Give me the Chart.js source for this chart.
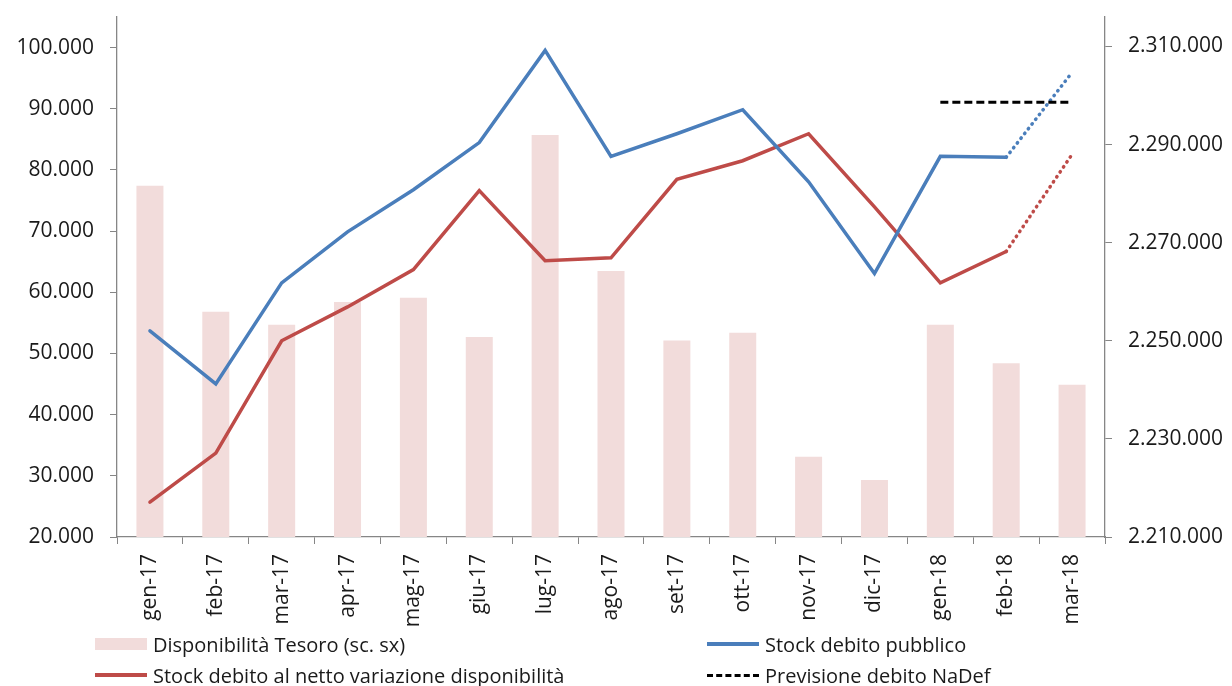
<!DOCTYPE html>
<html>
<head>
<meta charset="utf-8">
<script src="https://cdn.jsdelivr.net/npm/chart.js@4/dist/chart.umd.min.js"></script>
<style>
    body { margin: 0; background: #ffffff; }
    #wrap { position: relative; width: 1232px; height: 686px; }
    #legend {
        position: absolute; left: 0; top: 630px; width: 1232px; height: 56px;
        font-family: "Open Sans", sans-serif; font-size: 20px; color: #1a1a1a;
    }
    .item { position: absolute; display: flex; align-items: center; height: 28px; white-space: nowrap; }
    .swatch { width: 52px; margin-right: 6px; }
</style>
</head>
<body>
<div id="wrap">
    <canvas id="chart" width="1232" height="686"></canvas>
    <div id="legend"></div>
</div>
<script>
const labels = ['gen-17', 'feb-17', 'mar-17', 'apr-17', 'mag-17', 'giu-17', 'lug-17', 'ago-17',
    'set-17', 'ott-17', 'nov-17', 'dic-17', 'gen-18', 'feb-18', 'mar-18'];

// scala sinistra
const disponibilitaTesoro = [77400, 56800, 54700, 58400, 59100, 52700, 85700, 63500,
    52100, 53400, 33100, 29300, 54700, 48400, 44900];

// scala destra
const stockDebitoPubblico = [2252000, 2241200, 2261800, 2272200, 2280800, 2290400, 2309200, 2287600,
    2292200, 2297100, 2282400, 2263700, 2287600, 2287400, 2304700];
const stockDebitoNetto = [2217100, 2227100, 2250000, 2256900, 2264500, 2280600, 2266300, 2266900,
    2282900, 2286700, 2292200, 2277300, 2261800, 2268200, 2288000];
const previsioneNadef = [null, null, null, null, null, null, null, null,
    null, null, null, null, 2298600, 2298600, 2298600];

const leftTicks = [20000, 30000, 40000, 50000, 60000, 70000, 80000, 90000, 100000];
const rightTicks = [2210000, 2230000, 2250000, 2270000, 2290000, 2310000];

// da feb-18 in poi la serie e' una stima (tratto punteggiato)
const forecastFrom = 13;

const colors = {
    bar: '#f2dcdb',
    blue: '#4a7ebb',
    red: '#be4b48',
    black: '#000000',
    axis: '#868686',
    text: '#1a1a1a'
};

const fmt = v => String(v).replace(/\B(?=(\d{3})+(?!\d))/g, '.');
const dotted = ctx => ctx.p0DataIndex >= forecastFrom ? [0.5, 5.5] : undefined;
const font = { family: '"Open Sans", sans-serif', size: 21 };

const datasets = [
    {
        type: 'bar',
        label: 'Disponibilità Tesoro (sc. sx)',
        data: disponibilitaTesoro,
        backgroundColor: colors.bar,
        yAxisID: 'y',
        barPercentage: 0.41,
        categoryPercentage: 1,
        order: 10
    },
    {
        type: 'line',
        label: 'Stock debito pubblico',
        data: stockDebitoPubblico,
        borderColor: colors.blue,
        borderWidth: 3.5,
        borderCapStyle: 'round',
        pointRadius: 0,
        yAxisID: 'y1',
        segment: { borderDash: dotted },
        order: 2
    },
    {
        type: 'line',
        label: 'Stock debito al netto variazione disponibilità',
        data: stockDebitoNetto,
        borderColor: colors.red,
        borderWidth: 3.5,
        borderCapStyle: 'round',
        pointRadius: 0,
        yAxisID: 'y1',
        segment: { borderDash: dotted },
        order: 3
    },
    {
        type: 'line',
        label: 'Previsione debito NaDef',
        data: previsioneNadef,
        borderColor: colors.black,
        borderWidth: 3,
        borderDash: [8, 4],
        pointRadius: 0,
        yAxisID: 'y1',
        order: 1
    }
];

const axisGrid = { display: true, drawOnChartArea: false, drawTicks: true, tickLength: 7, color: colors.axis };
const axisBorder = { display: true, color: colors.axis, width: 1.3 };
const noPad = s => { s.paddingTop = 0; s.paddingBottom = 0; s.paddingLeft = 0; s.paddingRight = 0; };

new Chart(document.getElementById('chart'), {
    type: 'bar',
    data: { labels, datasets },
    options: {
        responsive: false,
        animation: false,
        layout: { padding: { top: 17, left: 0, right: 0, bottom: 0 } },
        plugins: { legend: { display: false }, tooltip: { enabled: false } },
        scales: {
            x: {
                grid: axisGrid,
                border: axisBorder,
                ticks: { color: colors.text, font, minRotation: 90, maxRotation: 90, padding: 10 },
                afterFit: s => { noPad(s); s.height = 149; }
            },
            y: {
                position: 'left',
                min: 20000,
                max: 105000,
                grid: axisGrid,
                border: axisBorder,
                ticks: { color: colors.text, font, padding: 16, callback: v => fmt(v) },
                afterBuildTicks: s => { s.ticks = leftTicks.map(v => ({ value: v })); },
                afterFit: s => { noPad(s); s.width = 117; }
            },
            y1: {
                position: 'right',
                min: 2210000,
                max: 2316000,
                grid: axisGrid,
                border: axisBorder,
                ticks: { color: colors.text, font, padding: 16, callback: v => fmt(v) },
                afterBuildTicks: s => { s.ticks = rightTicks.map(v => ({ value: v })); },
                afterFit: s => { noPad(s); s.width = 127; }
            }
        }
    }
});

// legenda su due colonne, come nell'originale
const legendPos = [
    { left: 95, top: 0 },
    { left: 707, top: 0 },
    { left: 95, top: 31 },
    { left: 707, top: 31 }
];
const legend = document.getElementById('legend');
datasets.forEach((ds, i) => {
    const item = document.createElement('div');
    item.className = 'item';
    item.style.left = legendPos[i].left + 'px';
    item.style.top = legendPos[i].top + 'px';
    const sw = document.createElement('span');
    sw.className = 'swatch';
    if (ds.type === 'bar') {
        sw.style.height = '12px';
        sw.style.background = ds.backgroundColor;
    } else {
        sw.style.height = '0';
        sw.style.borderTop = (ds.borderDash ? '3px dashed ' : '4px solid ') + ds.borderColor;
    }
    const txt = document.createElement('span');
    txt.textContent = ds.label;
    item.appendChild(sw);
    item.appendChild(txt);
    legend.appendChild(item);
});
</script>
</body>
</html>
